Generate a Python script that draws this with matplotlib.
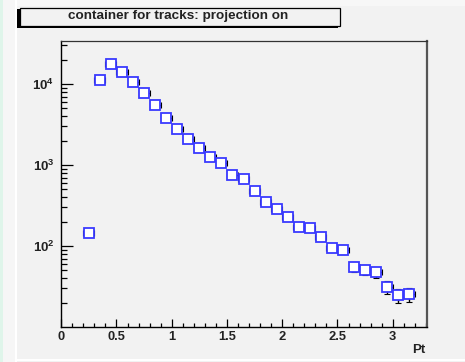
import numpy as np
import matplotlib
matplotlib.use("Agg")
import matplotlib.pyplot as plt
from matplotlib.patches import Rectangle
from matplotlib.ticker import FixedLocator, NullFormatter, LogLocator

# bin centres (Pt) and counts
pt = [0.25, 0.35, 0.45, 0.55, 0.65, 0.75, 0.85, 0.95, 1.05, 1.15,
      1.25, 1.35, 1.45, 1.55, 1.65, 1.75, 1.85, 1.95, 2.05, 2.15,
      2.25, 2.35, 2.45, 2.55, 2.65, 2.75, 2.85, 2.95, 3.05, 3.15]
counts = [145, 11300, 17800, 14200, 10500, 7700, 5500, 3840, 2780, 2110,
          1640, 1265, 1050, 753, 665, 477, 346, 284, 226, 173,
          168, 130, 94, 89, 55.5, 50.6, 47.3, 31.5, 24.8, 25.5]
bin_half = 0.05

title_text = "container for tracks: projection on"
x_label = "Pt"
x_ticks = [0, 0.5, 1, 1.5, 2, 2.5, 3]
x_tick_labels = ["0", "0.5", "1", "1.5", "2", "2.5", "3"]
y_ticks = [1e2, 1e3, 1e4]
y_tick_labels = [r"$\mathbf{10^{2}}$", r"$\mathbf{10^{3}}$", r"$\mathbf{10^{4}}$"]

W, H = 465, 362
bg = "#f2f2f2"

fig = plt.figure(figsize=(W / 100, H / 100), dpi=100)
fig.patch.set_facecolor(bg)
plt.rcParams['font.family'] = ['Liberation Sans', 'DejaVu Sans']
plt.rcParams['mathtext.fontset'] = 'custom'
plt.rcParams['mathtext.bf'] = 'Liberation Sans:bold'
plt.rcParams['mathtext.rm'] = 'Liberation Sans'


def px_rect(x0, y0, x1, y1, **kw):
    # rectangle in figure pixel coords (y from top)
    return Rectangle((x0 / W, 1 - y1 / H), (x1 - x0) / W, (y1 - y0) / H,
                     transform=fig.transFigure, figure=fig, **kw)


# window decorations
fig.patches.append(px_rect(0, 0, 3, H, facecolor="#dff5ea", edgecolor="none"))
fig.patches.append(px_rect(3, 0, 15, H, facecolor="#f6f6f6", edgecolor="none"))
fig.patches.append(px_rect(15, 0, 17, H, facecolor="white", edgecolor="none"))
fig.patches.append(px_rect(17, 0, W, 6, facecolor="#f7f7f7", edgecolor="none"))
fig.patches.append(px_rect(17, 359, W, 361, facecolor="white", edgecolor="none"))

# title box with shadow
fig.patches.append(px_rect(17, 9, 338, 28, facecolor="black", edgecolor="none"))
fig.patches.append(px_rect(19.5, 7.5, 340, 26, facecolor=bg, edgecolor="black", linewidth=0.9))
fig.text(178 / W, 1 - 16.5 / H, title_text, ha="center", va="center",
         fontsize=9.7, fontweight="bold", color="#222222")

ax = fig.add_axes([61.2 / W, 1 - 327 / H, (427 - 61.2) / W, (327 - 41) / H])
ax.set_facecolor(bg)

yerr = np.sqrt(np.array(counts))
ax.errorbar(pt, counts, xerr=bin_half, yerr=yerr, fmt="none",
            ecolor="black", elinewidth=1.0, capsize=2, capthick=0.8, zorder=2)
ax.plot(pt, counts, linestyle="none", marker="s", markersize=6.8,
        markerfacecolor="white", markeredgecolor="#3a3aff",
        markeredgewidth=1.3, zorder=3)

ax.set_yscale("log")
ax.set_xlim(0, 3.31)
ax.set_ylim(10, 33950)

ax.xaxis.set_major_locator(FixedLocator(x_ticks))
ax.set_xticklabels(x_tick_labels, fontsize=9.3, fontweight="bold", color="#222222")
ax.xaxis.set_minor_locator(FixedLocator(np.arange(0, 3.31, 0.1)))
ax.yaxis.set_major_locator(FixedLocator(y_ticks))
ax.set_yticklabels(y_tick_labels, fontsize=9.5, color="#222222")
ax.yaxis.set_minor_locator(LogLocator(base=10, subs=np.arange(2, 10)))
ax.yaxis.set_minor_formatter(NullFormatter())

ax.tick_params(axis="x", which="major", direction="in", length=6, width=0.9, pad=3)
ax.tick_params(axis="x", which="minor", direction="in", length=3, width=0.9)
ax.tick_params(axis="y", which="major", direction="in", length=8.5, width=0.9, pad=5)
ax.tick_params(axis="y", which="minor", direction="in", length=4.5, width=0.9)

for side in ["left", "bottom"]:
    ax.spines[side].set_linewidth(1.0)
    ax.spines[side].set_color("black")
ax.spines["top"].set_linewidth(0.9)
ax.spines["top"].set_color("#333333")
ax.spines["right"].set_linewidth(1.6)
ax.spines["right"].set_color("#555555")

fig.text(425 / W, 1 - 350 / H, x_label, ha="right", va="center",
         fontsize=9.5, fontweight="bold", color="#222222")

fig.savefig("out.png", dpi=100, facecolor=fig.get_facecolor())
